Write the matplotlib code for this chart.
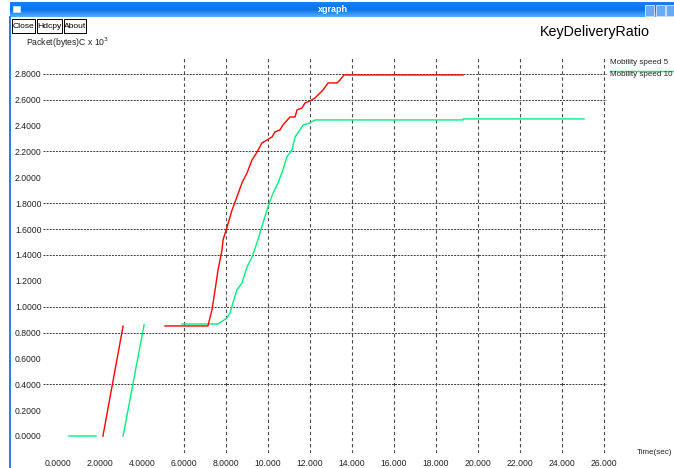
import numpy as np
import matplotlib
matplotlib.use('Agg')
import matplotlib.pyplot as plt
from matplotlib.patches import Rectangle

plt.rcParams['font.family'] = ['Liberation Sans Narrow', 'DejaVu Sans Condensed',
                               'Liberation Sans', 'DejaVu Sans']

nan = np.nan

# Mobility speed 5 (red), gaps mark separate runs
speed5_t = [2.14, 3.10, nan,
            5.10, 7.14, 7.33, 7.48, 7.62, 7.81, 7.86, 8.05, 8.29, 8.52, 8.76,
            9.00, 9.24, 9.48, 9.71, 9.95, 10.19, 10.33, 10.57, 10.71, 11.05,
            11.29, 11.38, 11.62, 11.76, 12.00, 12.24, 12.48, 12.62, 12.86,
            13.29, 13.43, 13.62, 19.29]
speed5_p = [0.0, 0.85, nan,
            0.851, 0.851, 0.974, 1.129, 1.284, 1.438, 1.516, 1.616, 1.748,
            1.848, 1.957, 2.034, 2.135, 2.196, 2.266, 2.289, 2.312, 2.351,
            2.367, 2.405, 2.467, 2.467, 2.521, 2.537, 2.575, 2.591, 2.614,
            2.653, 2.676, 2.730, 2.730, 2.753, 2.792, 2.792]

# Mobility speed 10 (green)
speed10_t = [0.52, 1.81, nan, 3.10, 4.10, nan,
             5.90, 7.62, 8.05, 8.19, 8.33, 8.52, 8.76, 9.00, 9.24, 9.52, 9.76,
             10.00, 10.24, 10.48, 10.71, 10.90, 11.14, 11.29, 11.52, 11.67,
             12.00, 12.24, 19.29, 19.30, 25.05]
speed10_p = [0.0, 0.0, nan, 0.0, 0.86, nan,
             0.866, 0.866, 0.913, 0.951, 1.029, 1.129, 1.183, 1.307, 1.384,
             1.516, 1.647, 1.771, 1.879, 1.957, 2.057, 2.158, 2.212, 2.312,
             2.367, 2.405, 2.421, 2.444, 2.444, 2.452, 2.452]

series_names = ['Mobility speed 5', 'Mobility speed 10']
series_colors = ['#ff0000', '#00f07c']

x_ticks = np.arange(0, 27, 2)
x_labels = ['0.0000', '2.0000', '4.0000', '6.0000', '8.0000', '10.000',
            '12.000', '14.000', '16.000', '18.000', '20.000', '22.000',
            '24.000', '26.000']
y_ticks = np.arange(0, 2.81, 0.2)
y_labels = ['%.4f' % v for v in y_ticks]
hgrid = [0.4, 0.8, 1.0, 1.4, 1.6, 1.8, 2.2, 2.6, 2.8]
vgrid = np.arange(6, 27, 2)

small = 5.8
W, H = 674, 468
fig = plt.figure(figsize=(W / 100, H / 100), dpi=100)
fig.patch.set_facecolor('white')

# window decoration, drawn in pixel coordinates
deco = fig.add_axes([0, 0, 1, 1])
deco.set_xlim(0, W)
deco.set_ylim(H, 0)
deco.axis('off')

grad = np.linspace(0, 1, 30)
top = np.array([0.10, 0.50, 0.95])
mid = np.array([0.05, 0.45, 0.92])
bot = np.array([0.33, 0.68, 1.00])
bar = np.array([top + (mid - top) * g * 2 if g < 0.5 else mid + (bot - mid) * (g - 0.5) * 2
                for g in grad])
bar = np.repeat(bar[:, None, :], 2, axis=1)
deco.imshow(bar, extent=[10, W, 17, 2.5], aspect='auto', zorder=1)
deco.add_patch(Rectangle((13, 6), 7, 6, facecolor='white', edgecolor='#cfe3fb', lw=0.6, zorder=2))
deco.text(333, 10, 'xgraph', color='white', fontsize=6.5, fontweight='bold',
          ha='center', va='center', zorder=3)
for bx in [645, 655.5, 666]:
    deco.add_patch(Rectangle((bx, 4.5), 9, 11, facecolor='#6aaaf5', edgecolor='#dbe9fb',
                             lw=0.6, zorder=2))
deco.plot([10, 10], [17, H], color='#1f6fd8', lw=1.3, zorder=2)

for label, x0, x1 in [('Close', 12, 35), ('Hdcpy', 36.5, 62), ('About', 63.5, 86)]:
    deco.add_patch(Rectangle((x0 + 1, 20), x1 - x0, 14, facecolor='#9a9a9a', lw=0, zorder=2))
    deco.add_patch(Rectangle((x0, 19), x1 - x0, 14, facecolor='white', edgecolor='black',
                             lw=0.7, zorder=3))
    deco.text((x0 + x1) / 2, 26.5, label, fontsize=6.1, ha='center', va='center', zorder=4)

deco.text(26, 43, 'Packet(bytes)C x 10$^3$', fontsize=6.2, color='#222222',
          ha='left', va='center')
deco.text(540, 32, 'KeyDeliveryRatio', fontsize=10.3, ha='left', va='center')
deco.text(672, 452, 'Time(sec)', fontsize=small, color='#222222', ha='right', va='center')

# legend in the xgraph style: names stacked at the right with a line segment
deco.text(610, 62, series_names[0], fontsize=small, color='#222222', ha='left', va='center')
deco.text(610, 74.5, series_names[1], fontsize=small, color='#222222', ha='left', va='center')
deco.plot([610, W], [70.7, 70.7], color=series_colors[1], lw=1.0)

ax = fig.add_axes([43 / W, 1 - 453 / H, 564 / W, 395 / H])
ax.set_xlim(-0.714, 26.143)
ax.set_ylim(-0.1315, 2.923)
ax.patch.set_alpha(0)
for s in ax.spines.values():
    s.set_visible(False)

for y in hgrid:
    ax.axhline(y, color='#3a3a3a', lw=0.7, ls=(0, (2, 1.2)), zorder=1)
for x in vgrid:
    ax.axvline(x, color='#4a4a4a', lw=0.8, ls=(0, (3, 2.5)), zorder=1)

ax.plot(speed10_t, speed10_p, color=series_colors[1], lw=1.0, zorder=3)
ax.plot(speed5_t, speed5_p, color=series_colors[0], lw=1.0, zorder=3)

ax.set_xticks(x_ticks)
ax.set_xticklabels(x_labels)
ax.set_yticks(y_ticks)
ax.set_yticklabels(y_labels)
ax.tick_params(length=0, labelsize=6.2, labelcolor='#222222')
ax.tick_params(axis='x', pad=4)
ax.tick_params(axis='y', pad=1)

fig.savefig('out.png', dpi=100, facecolor='white')
